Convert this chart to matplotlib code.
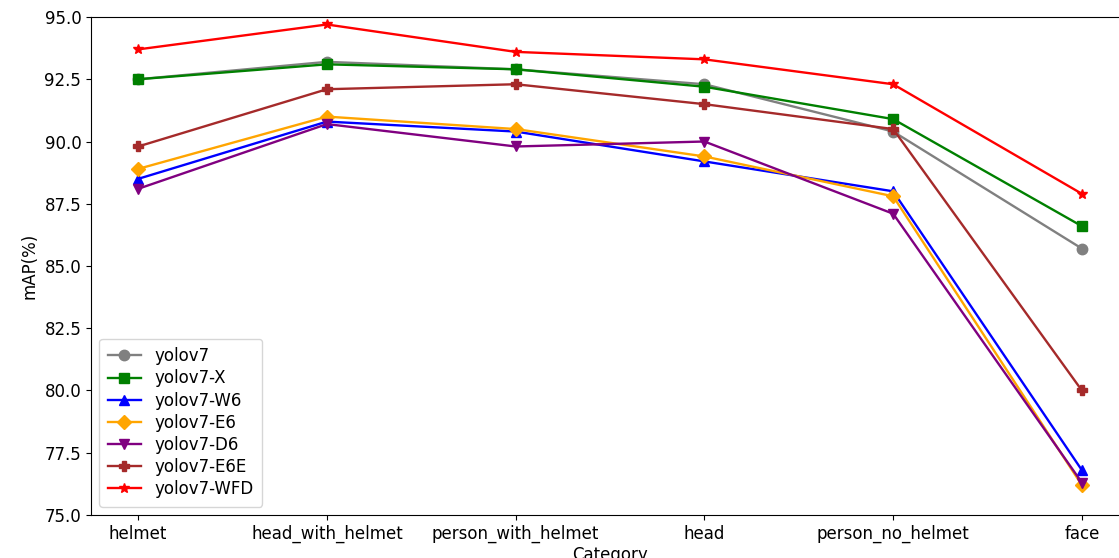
import matplotlib

matplotlib.use("Agg")
import matplotlib.pyplot as plt

categories = ["helmet", "head_with_helmet", "person_with_helmet", "head", "person_no_helmet", "face"]

yolov7 = [92.5, 93.2, 92.9, 92.3, 90.4, 85.7]
yolov7_x = [92.5, 93.1, 92.9, 92.2, 90.9, 86.6]
yolov7_w6 = [88.5, 90.8, 90.4, 89.2, 88.0, 76.8]
yolov7_e6 = [88.9, 91.0, 90.5, 89.4, 87.8, 76.2]
yolov7_d6 = [88.1, 90.7, 89.8, 90.0, 87.1, 76.3]
yolov7_e6e = [89.8, 92.1, 92.3, 91.5, 90.5, 80.0]
yolov7_wfd = [93.7, 94.7, 93.6, 93.3, 92.3, 87.9]

series = [
    ("yolov7", yolov7, "gray", "o"),
    ("yolov7-X", yolov7_x, "green", "s"),
    ("yolov7-W6", yolov7_w6, "blue", "^"),
    ("yolov7-E6", yolov7_e6, "orange", "D"),
    ("yolov7-D6", yolov7_d6, "purple", "v"),
    ("yolov7-E6E", yolov7_e6e, "brown", "P"),
    ("yolov7-WFD", yolov7_wfd, "red", "*"),
]

plt.rcParams["font.size"] = 12

fig = plt.figure(figsize=(11.19, 5.58), dpi=100)
# the source image is cropped on the right, so the axes run past the figure edge
ax = fig.add_axes([0.0813, 0.0771, 0.9277, 0.8924])

x = list(range(len(categories)))
for label, values, color, marker in series:
    ax.plot(x, values, color=color, marker=marker, markersize=7.5, linewidth=1.7, label=label)

ax.set_xticks(x)
ax.set_xticklabels(categories)
ax.set_ylim(75, 95)
ax.set_yticks([75.0, 77.5, 80.0, 82.5, 85.0, 87.5, 90.0, 92.5, 95.0])
ax.set_xlabel("Category", labelpad=2)
ax.set_ylabel("mAP(%)")
ax.legend(loc="lower left", labelspacing=0.25, borderpad=0.5)

fig.savefig("out.png", dpi=100)
